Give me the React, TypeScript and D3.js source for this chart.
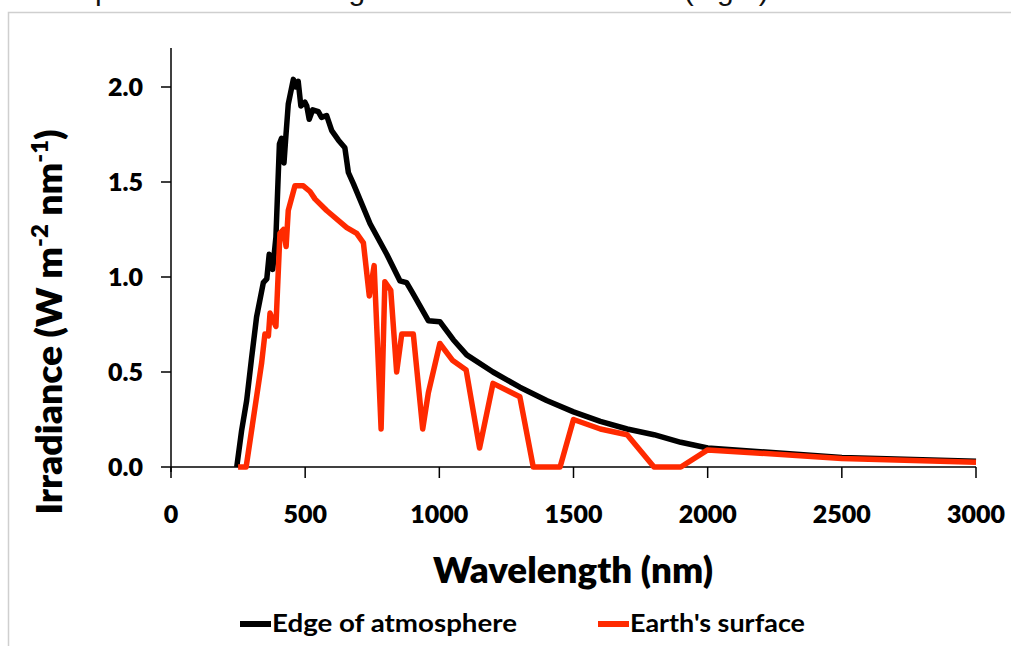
import React from "react";
import * as d3 from "d3";

const WIDTH = 1011;
const HEIGHT = 646;

const xTicks = [0, 500, 1000, 1500, 2000, 2500, 3000];
const yTicks = [0, 0.5, 1.0, 1.5, 2.0];

const seriesNames = ["Edge of atmosphere", "Earth's surface"];
const seriesColors = ["#000000", "#ff2a00"];

// Edge of atmosphere: [wavelength nm, irradiance W m^-2 nm^-1]
const edgeOfAtmosphere: [number, number][] = [
  [245, 0], [263, 0.19], [282, 0.35], [300, 0.57], [319, 0.79], [344, 0.97], [357, 0.99],
  [366, 1.12], [379, 1.04], [391, 1.21], [404, 1.7], [412, 1.73], [421, 1.6], [427, 1.72],
  [437, 1.91], [456, 2.04], [465, 2.0], [474, 2.03], [484, 1.9], [499, 1.92], [506, 1.9],
  [515, 1.83], [528, 1.88], [549, 1.87], [561, 1.84], [580, 1.85], [599, 1.77], [624, 1.72],
  [648, 1.68], [661, 1.55], [680, 1.49], [742, 1.28], [804, 1.12], [853, 0.98], [878, 0.97],
  [903, 0.91], [959, 0.77], [1002, 0.765], [1052, 0.67], [1102, 0.59], [1200, 0.5],
  [1300, 0.42], [1400, 0.35], [1500, 0.29], [1600, 0.24], [1700, 0.2], [1800, 0.17],
  [1900, 0.13], [2000, 0.1], [2500, 0.05], [3000, 0.03],
];

// Earth's surface
const earthsSurface: [number, number][] = [
  [250, 0], [280, 0], [338, 0.55], [350, 0.7], [363, 0.69], [369, 0.81], [381, 0.77],
  [391, 0.74], [406, 1.23], [419, 1.25], [429, 1.16], [437, 1.35], [462, 1.48], [493, 1.48],
  [518, 1.45], [537, 1.41], [580, 1.35], [655, 1.26], [692, 1.23], [717, 1.18], [739, 0.9],
  [757, 1.06], [783, 0.2], [797, 0.975], [819, 0.93], [841, 0.5], [860, 0.7], [903, 0.7],
  [938, 0.2], [959, 0.39], [1002, 0.65], [1050, 0.56], [1100, 0.51], [1150, 0.1],
  [1200, 0.44], [1300, 0.37], [1350, 0], [1450, 0], [1500, 0.25], [1600, 0.2], [1700, 0.17],
  [1800, 0], [1900, 0], [2000, 0.09], [2500, 0.045], [3000, 0.025],
];

const series = [edgeOfAtmosphere, earthsSurface];

const FONT = "Lato, 'Open Sans', sans-serif";

export default function App() {
  const x = d3.scaleLinear().domain([0, 3000]).range([171, 976]);
  const y = d3.scaleLinear().domain([0, 2.0]).range([467, 87]);
  const line = d3
    .line<[number, number]>()
    .x((d) => x(d[0]))
    .y((d) => y(d[1]));

  const legendX = [240, 598];
  const legendLen = [245, 175];

  return (
    <div style={{ position: "absolute", left: 0, top: 0 }}>
      <svg width={WIDTH} height={HEIGHT} style={{ display: "block", background: "#fff" }}>
        <rect x={0} y={0} width={WIDTH} height={HEIGHT} fill="#fff" />
        {/* page title above the chart, cut by the top edge as in the source */}
        <text
          x={75}
          y={0}
          fontFamily="'Liberation Sans', Arial, sans-serif"
          fontSize={30}
          fill="#111"
        >
          Spectrum of incoming solar radiation at Earth (Light)
        </text>
        {/* chart frame */}
        <path d={`M8.5,${HEIGHT} V12.5 H${WIDTH}`} fill="none" stroke="#cfcfcf" strokeWidth={1.5} />

        {/* y axis */}
        <line x1={171} x2={171} y1={48} y2={472} stroke="#000" strokeWidth={1.5} />
        {yTicks.map((t) => (
          <g key={"y" + t}>
            <line x1={161} x2={171} y1={y(t)} y2={y(t)} stroke="#000" strokeWidth={1.5} />
            <text
              x={143}
              y={y(t)}
              dy="0.36em"
              textAnchor="end"
              fontFamily={FONT}
              fontWeight={800}
              fontSize={25}
              fill="#000"
            >
              {t.toFixed(1)}
            </text>
          </g>
        ))}

        {/* x axis */}
        <line x1={171} x2={976} y1={467} y2={467} stroke="#000" strokeWidth={1.5} />
        {xTicks.map((t) => (
          <g key={"x" + t}>
            <line x1={x(t)} x2={x(t)} y1={467} y2={478} stroke="#000" strokeWidth={1.5} />
            <text
              x={x(t)}
              y={523}
              textAnchor="middle"
              fontFamily={FONT}
              fontWeight={800}
              fontSize={25}
              fill="#000"
            >
              {t}
            </text>
          </g>
        ))}

        {/* series lines */}
        {series.map((s, i) => (
          <path
            key={seriesNames[i]}
            d={line(s) || ""}
            fill="none"
            stroke={seriesColors[i]}
            strokeWidth={5.5}
            strokeLinejoin="round"
          />
        ))}

        {/* axis titles */}
        <text
          x={573}
          y={583}
          textAnchor="middle"
          fontFamily={FONT}
          fontWeight={800}
          fontSize={36}
          textLength={280}
          lengthAdjust="spacingAndGlyphs"
          fill="#000"
        >
          Wavelength (nm)
        </text>
        <text
          transform="translate(62,322) rotate(-90)"
          textAnchor="middle"
          fontFamily={FONT}
          fontWeight={800}
          fontSize={36}
          fill="#000"
          textLength={385}
          lengthAdjust="spacingAndGlyphs"
        >
          Irradiance (W m
          <tspan fontSize={23} dy={-14}>-2</tspan>
          <tspan dy={14}> nm</tspan>
          <tspan fontSize={23} dy={-14}>-1</tspan>
          <tspan dy={14}>)</tspan>
        </text>

        {/* legend */}
        {seriesNames.map((name, i) => {
          const lx = legendX[i];
          return (
            <g key={"leg" + name}>
              <line x1={lx} x2={lx + 31} y1={624} y2={624} stroke={seriesColors[i]} strokeWidth={6} />
              <text
                x={lx + 32}
                y={632}
                fontFamily={FONT}
                fontWeight={700}
                fontSize={25}
                textLength={legendLen[i]}
                lengthAdjust="spacingAndGlyphs"
                fill="#000"
              >
                {name}
              </text>
            </g>
          );
        })}
      </svg>
    </div>
  );
}
